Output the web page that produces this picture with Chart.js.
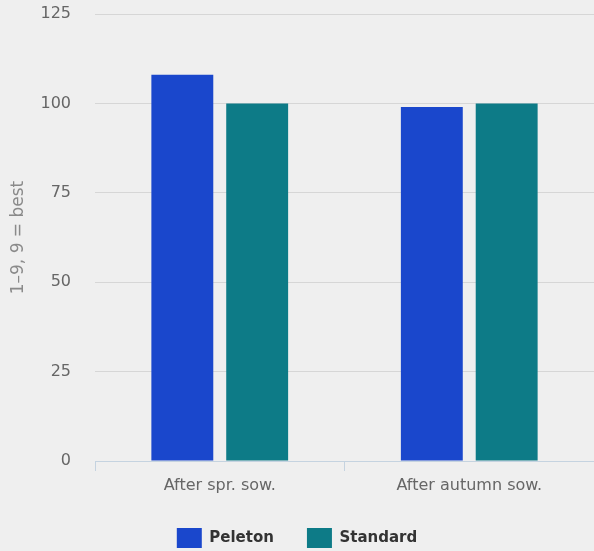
<!DOCTYPE html>
<html lang="en">
<head>
    <meta charset="UTF-8">
    <title>Peleton vs Standard</title>
    <script src="https://cdn.jsdelivr.net/npm/chart.js@4.4.0/dist/chart.umd.min.js"></script>
    <style>
        html, body { margin: 0; padding: 0; background: #efefef; overflow: hidden; }
        #wrap { width: 594px; height: 551px; }
    </style>
</head>
<body>
    <div id="wrap"><canvas id="chart"></canvas></div>

    <script>
        // Data
        const categories = ['After spr. sow.', 'After autumn sow.'];
        const peleton = [108, 99];
        const standard = [100, 100];
        const yTicks = [0, 25, 50, 75, 100, 125];

        const ctx = document.getElementById('chart').getContext('2d');
        new Chart(ctx, {
            type: 'bar',
            data: {
                labels: categories,
                datasets: [
                    { label: 'Peleton', data: peleton, backgroundColor: '#1a47cc' },
                    { label: 'Standard', data: standard, backgroundColor: '#0d7b87' }
                ]
            },
            options: {
                responsive: true,
                maintainAspectRatio: false,
                animation: false,
                // negative bottom lets the legend sit close to the edge while keeping wide item spacing
                layout: { padding: { top: 14, right: 0, left: 0, bottom: -7 } },
                datasets: {
                    bar: { categoryPercentage: 0.6, barPercentage: 0.827 }
                },
                plugins: {
                    tooltip: { enabled: false },
                    legend: {
                        position: 'bottom',
                        labels: {
                            boxWidth: 25,
                            boxHeight: 20,
                            padding: 33,
                            color: '#333',
                            font: { family: 'DejaVu Sans', size: 15, weight: 'bold' }
                        }
                    }
                },
                scales: {
                    x: {
                        grid: {
                            offset: true,
                            drawOnChartArea: false,
                            drawTicks: true,
                            tickLength: 10,
                            color: '#c5d3e0'
                        },
                        border: { color: '#c5d3e0' },
                        ticks: {
                            color: '#666',
                            padding: 5,
                            font: { family: 'DejaVu Sans', size: 16 }
                        },
                        afterFit: (scale) => { scale.height = 34; }
                    },
                    y: {
                        min: 0,
                        max: 125,
                        afterBuildTicks: (scale) => { scale.ticks = yTicks.map(v => ({ value: v })); },
                        grid: {
                            // the zero line is the x axis itself
                            color: (c) => c.tick && c.tick.value === 0 ? 'rgba(0,0,0,0)' : '#d6d6d6',
                            drawTicks: false
                        },
                        border: { display: false },
                        ticks: {
                            color: '#666',
                            padding: 24,
                            font: { family: 'DejaVu Sans', size: 16 }
                        },
                        title: {
                            display: true,
                            text: '1–9, 9 = best',
                            color: '#8a8a8a',
                            padding: { top: 8, bottom: 0 },
                            font: { family: 'DejaVu Sans', size: 17 }
                        },
                        afterFit: (scale) => {
                            scale.width = 95;
                            scale.paddingTop = 0;
                            scale.paddingBottom = 0;
                        }
                    }
                }
            }
        });
    </script>
</body>
</html>
